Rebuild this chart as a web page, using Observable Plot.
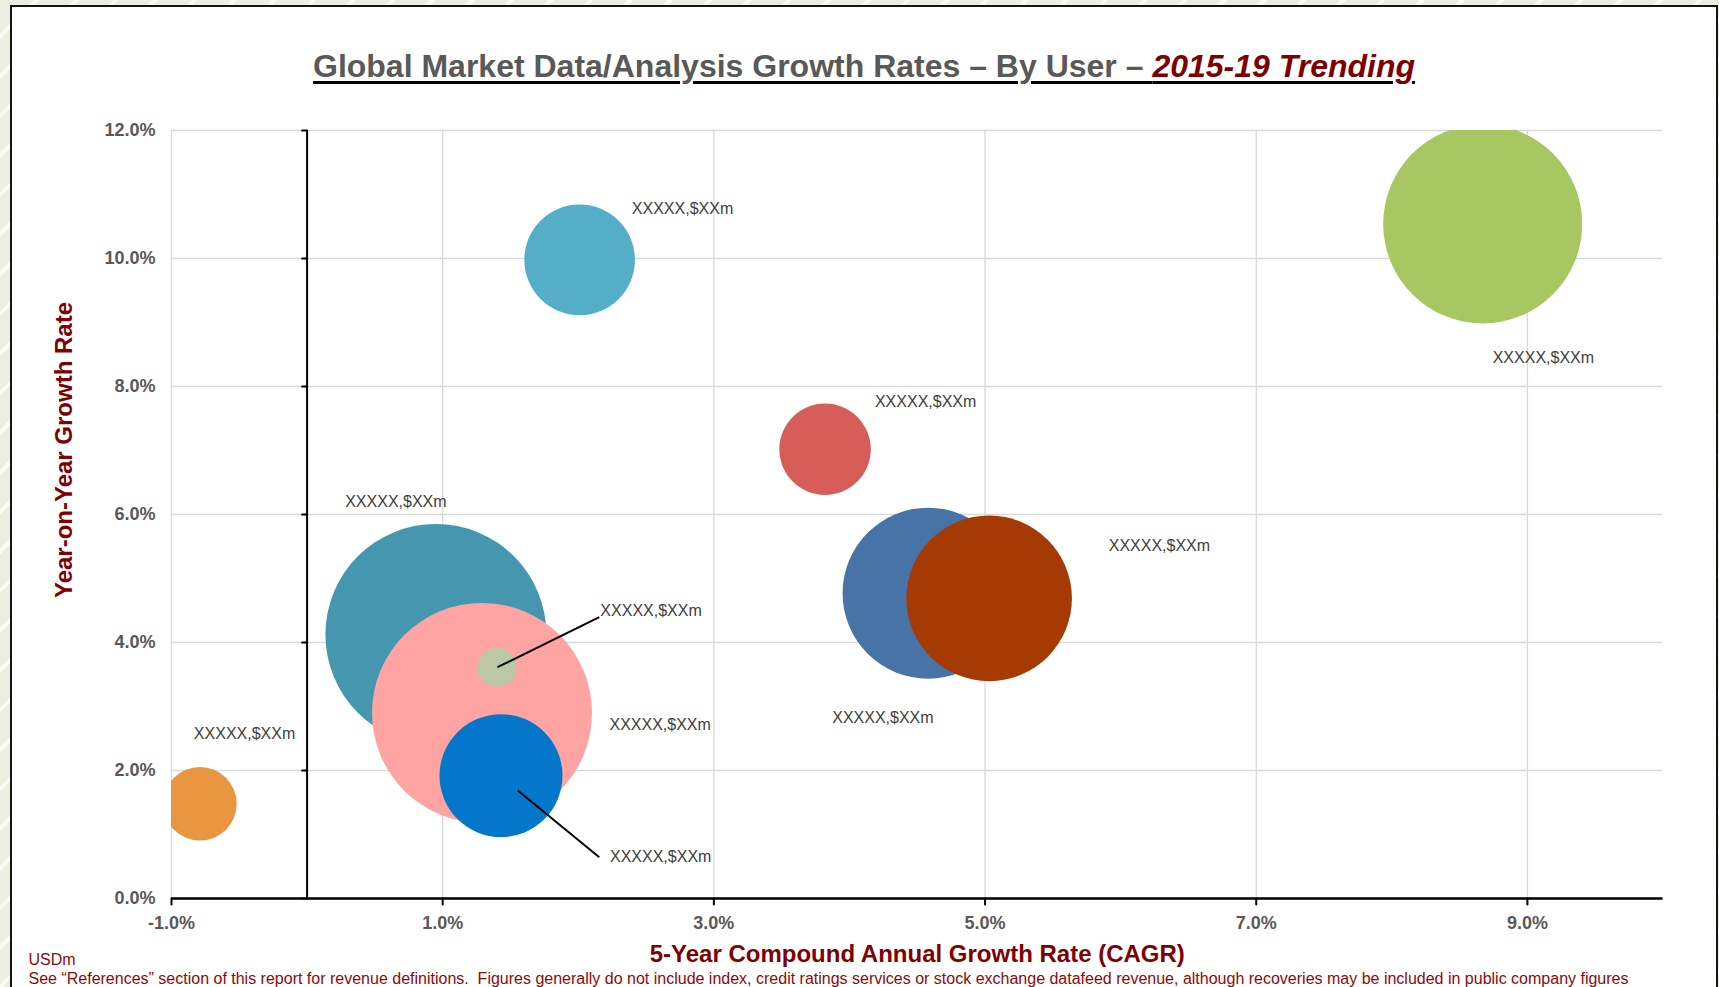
<!DOCTYPE html>
<html><head><meta charset="utf-8">
<script src="https://cdn.jsdelivr.net/npm/d3@7"></script>
<script src="https://cdn.jsdelivr.net/npm/@observablehq/plot@0.6"></script>
<style>
html,body{margin:0;padding:0;}
body{width:1719px;height:987px;overflow:hidden;background-color:#EEEDE1;
  background-image:repeating-linear-gradient(135deg, rgba(255,255,255,0) 0 24px, rgba(255,255,255,0.75) 24px 28px);
  font-family:"Liberation Sans", Arial, sans-serif;}
#card{position:absolute;left:10px;top:5px;width:1704px;height:1000px;border:2px solid #141414;background:#fff;}
#title{position:absolute;left:0;top:39px;width:1704px;text-align:center;font-size:32px;font-weight:bold;line-height:40px;white-space:nowrap;
  text-decoration:underline;text-decoration-thickness:3px;text-underline-offset:4px;}
#title .a{color:#595959;}
#title .b{color:#7F0000;font-style:italic;}
#chart{position:absolute;left:0;top:93px;}
.foot{position:absolute;left:16.5px;font-size:16px;line-height:18px;color:#8B0A0A;white-space:nowrap;}
</style></head>
<body>
<div id="card">
  <div id="title"><span class="a">Global Market Data/Analysis Growth Rates – By User – </span><span class="b">2015-19 Trending</span></div>
  <div id="chart"></div>
  <div class="foot" id="f1" style="top:944px">USDm</div>
  <div class="foot" id="f2" style="top:963px">See “References” section of this report for revenue definitions.&nbsp; Figures generally do not include index, credit ratings services or stock exchange datafeed revenue, although recoveries may be included in public company figures</div>
</div>
<script>
// ---- data ----
const users   = ["A", "B", "C", "D", "E", "F", "G", "H", "I", "J"];
const cagr    = [-0.79, 0.95, 1.29, 1.40, 1.43, 2.01, 3.82, 4.58, 5.03, 8.67];   // % 5-year CAGR
const yoy     = [1.48, 4.125, 2.90, 3.61, 1.92, 9.98, 7.02, 4.77, 4.69, 10.54];   // % year-on-year
const revenue = [135, 1221, 1210, 38, 378, 306, 209, 731, 686, 990];             // USDm (bubble size)
const colors  = ["#EA953F", "#4596AF", "#FFA3A3", "#BCC8A5", "#0577CB", "#54AEC8", "#D65D5A", "#4773A6", "#A63A04", "#A7C763"];
const labels  = ["XXXXX,$XXm","XXXXX,$XXm","XXXXX,$XXm","XXXXX,$XXm","XXXXX,$XXm","XXXXX,$XXm","XXXXX,$XXm","XXXXX,$XXm","XXXXX,$XXm","XXXXX,$XXm"];
// label anchors (data units, like manually placed Excel data labels)
const labelX  = [-0.835, 0.281, 2.230, 2.163, 2.234, 2.395, 4.188, 3.873, 5.912, 8.744];
const labelY  = [2.573, 6.19, 2.719, 4.50, 0.645, 10.777, 7.755, 2.817, 5.516, 8.442];
// leader lines (data units): small bubble D and bubble E
const leaderFrom = [[1.404, 3.614], [1.554, 1.6875]];
const leaderTo   = [[2.155, 4.395], [2.155, 0.645]];
const xTicks = [-1, 1, 3, 5, 7, 9];
const yTicks = [0, 2, 4, 6, 8, 10, 12];

const bubbles = users.map((u, i) => ({user: u, x: cagr[i], y: yoy[i], v: revenue[i], c: colors[i], label: labels[i], lx: labelX[i], ly: labelY[i]}));
const leaders = leaderFrom.map((f, i) => ({x1: f[0], y1: f[1], x2: leaderTo[i][0], y2: leaderTo[i][1]}));

const font = "Liberation Sans, Arial, sans-serif";
const tickShape = {draw(context, l) { context.moveTo(0, 0); context.lineTo(0, -l); }};
const pct = d => d.toFixed(1) + "%";

const chart = Plot.plot({
  width: 1704,
  height: 887,
  marginLeft: 159,
  marginRight: 53.5,
  marginTop: 30,
  marginBottom: 89,
  style: {fontFamily: font, background: "transparent"},
  x: {domain: [-1, 10]},
  y: {domain: [0, 12]},
  r: {type: "sqrt", domain: [0, 1221], range: [0, 110.5]},
  marks: [
    Plot.gridX(xTicks, {stroke: "#D9D9D9", strokeOpacity: 1, strokeWidth: 1.3}),
    Plot.gridY(yTicks, {stroke: "#D9D9D9", strokeOpacity: 1, strokeWidth: 1.3}),
    Plot.dot(bubbles, {x: "x", y: "y", r: "v", fill: "c", stroke: null, sort: null, clip: "frame"}),
    Plot.link(leaders, {x1: "x1", y1: "y1", x2: "x2", y2: "y2", stroke: "black", strokeWidth: 2}),
    Plot.text(bubbles, {x: "lx", y: "ly", text: "label", textAnchor: "start", lineAnchor: "middle", fontSize: 16, fill: "#404040"}),
    Plot.ruleX([0], {stroke: "black", strokeWidth: 2}),
    Plot.vector(yTicks, {x: () => 0, y: d => d, length: 5, rotate: -90, anchor: "start", shape: tickShape, stroke: "black", strokeWidth: 2}),
    Plot.ruleY([0], {stroke: "black", strokeWidth: 2.5}),
    Plot.vector(xTicks, {x: d => d, y: () => 0, length: 6, rotate: 180, anchor: "start", shape: tickShape, stroke: "black", strokeWidth: 2}),
    Plot.axisX(xTicks, {tickSize: 0, tickPadding: 18, tickFormat: pct, fontSize: 18, fontWeight: "bold", color: "#595959", label: null}),
    Plot.axisY(yTicks, {tickSize: 0, tickPadding: 16, tickFormat: pct, fontSize: 18, fontWeight: "bold", color: "#595959", label: null}),
    Plot.text(["5-Year Compound Annual Growth Rate (CAGR)"], {text: d => d, frameAnchor: "bottom", dy: 56, textAnchor: "middle", lineAnchor: "middle", fontSize: 24, fontWeight: "bold", fill: "#7F0000"}),
    Plot.text(["Year-on-Year Growth Rate"], {text: d => d, frameAnchor: "left", rotate: -90, dx: -107, dy: -64.5, textAnchor: "middle", lineAnchor: "middle", fontSize: 24, fontWeight: "bold", fill: "#7F0000"})
  ]
});
document.getElementById("chart").appendChild(chart);
</script>
</body></html>
